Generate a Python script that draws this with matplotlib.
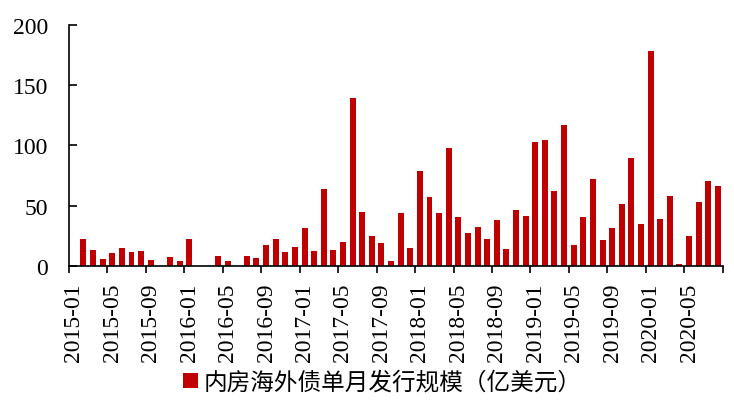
# 内房海外债单月发行规模（亿美元），2015-01 至 2020-08

import numpy as np
import matplotlib.pyplot as plt
from matplotlib.patches import Patch

months = [f"{y}-{m:02d}" for y in range(2015, 2021) for m in range(1, 13)][:68]

issuance = [
    0, 22, 13, 6, 10.5, 14.5, 11.5, 12, 5, 0, 7.5, 4.5,            # 2015
    22, 0, 0, 8.5, 4.5, 0, 8.5, 6.5, 17, 22.3, 11.2, 16,           # 2016
    31.5, 12.2, 63.8, 13, 19.7, 139, 45, 25, 19, 4.5, 43.8, 15.2,  # 2017
    78.4, 57.3, 44, 97.5, 40.5, 27.2, 32.5, 22.2, 38, 13.8, 46, 41.8,   # 2018
    102.5, 104.2, 62, 116.6, 17.5, 41, 71.8, 21.2, 31.3, 51.5, 89.8, 35.2,  # 2019
    178, 38.8, 58, 2, 24.7, 53, 70.5, 66,                          # 2020
]

y_ticks = [0, 50, 100, 150, 200]
legend_label = "内房海外债单月发行规模（亿美元）"
bar_color = "#C00000"


def main():
    plt.rcParams["font.family"] = ["Liberation Serif", "DejaVu Serif"]

    fig = plt.figure(figsize=(7.34, 4.02), dpi=100)
    ax = fig.add_axes([0.094, 0.336, 0.8906, 0.5995])

    x = np.arange(len(months))
    ax.bar(x, issuance, width=0.62, color=bar_color)

    ax.set_xlim(-0.5, len(months) - 0.5)
    ax.set_ylim(0, 200)

    # labels every 4 months at category centres, tick marks on category boundaries
    lab_pos = x[::4]
    ax.set_xticks(lab_pos)
    ax.set_xticklabels([months[i] for i in lab_pos], rotation=90, fontsize=17)
    ax.tick_params(axis="x", which="major", length=0, pad=12)
    ax.set_xticks(np.arange(-0.5, len(months), 4), minor=True)
    ax.tick_params(axis="x", which="minor", direction="out", length=5, width=1.2)

    ax.set_yticks(y_ticks)
    ax.set_yticklabels([str(v) for v in y_ticks], fontsize=17)
    ax.tick_params(axis="y", direction="in", length=6, width=1.2, pad=15)

    for s in ["top", "right"]:
        ax.spines[s].set_visible(False)
    for s in ["left", "bottom"]:
        ax.spines[s].set_linewidth(1.2)

    handle = Patch(facecolor=bar_color, edgecolor="none")
    fig.legend([handle], [legend_label], loc="center", bbox_to_anchor=(0.521, 0.047),
               frameon=False, handlelength=0.6, handleheight=0.6, handletextpad=0.25,
               prop={"family": ["Noto Sans CJK SC", "DejaVu Sans"], "size": 17})

    fig.savefig("out.png", dpi=100)
    plt.close(fig)


if __name__ == "__main__":
    main()
